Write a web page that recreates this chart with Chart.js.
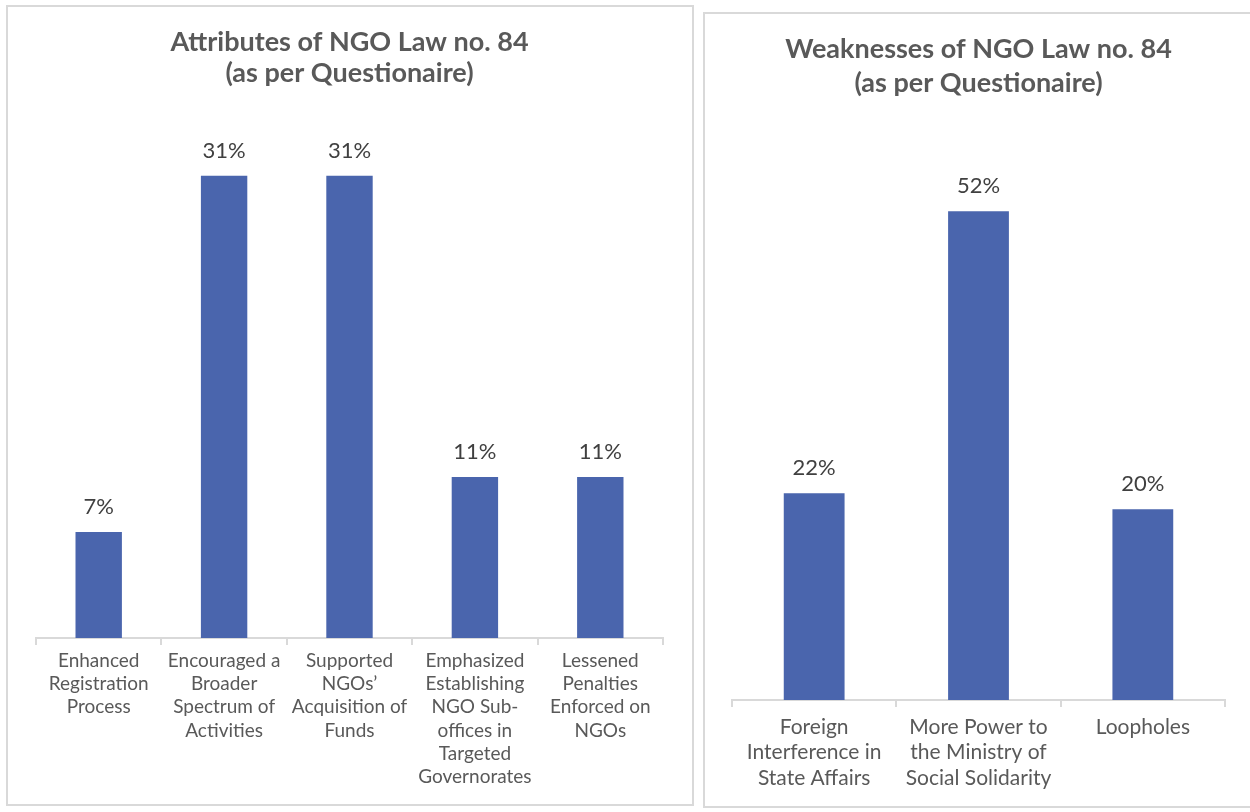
<!DOCTYPE html>
<html>
<head>
<meta charset="utf-8">
<script src="https://cdn.jsdelivr.net/npm/chart.js@4/dist/chart.umd.min.js"></script>
<style>
  body { margin: 0; background: #fff; width: 1250px; height: 812px; position: relative; overflow: hidden; }
  .box { position: absolute; border: 2px solid #d9d9d9; box-sizing: border-box; background: #fff; }
  #leftBox { left: 6px; top: 5px; width: 688px; height: 801px; }
  #rightBox { left: 703px; top: 12px; width: 549px; height: 796px; }
  canvas { display: block; }
</style>
</head>
<body>
<div class="box" id="leftBox"><canvas id="attrChart" width="684" height="797"></canvas></div>
<div class="box" id="rightBox"><canvas id="weakChart" width="545" height="792"></canvas></div>
<script>
// chart data
const attrTitle = ['Attributes of NGO Law no. 84', '(as per Questionaire)'];
const attrCategories = [
  ['Enhanced', 'Registration', 'Process'],
  ['Encouraged a', 'Broader', 'Spectrum of', 'Activities'],
  ['Supported', 'NGOs’', 'Acquisition of', 'Funds'],
  ['Emphasized', 'Establishing', 'NGO Sub-', 'offices in', 'Targeted', 'Governorates'],
  ['Lessened', 'Penalties', 'Enforced on', 'NGOs']
];
const attrValues = [7.1, 31, 31, 10.8, 10.8];

const weakTitle = ['Weaknesses of NGO Law no. 84', '(as per Questionaire)'];
const weakCategories = [
  ['Foreign', 'Interference in', 'State Affairs'],
  ['More Power to', 'the Ministry of', 'Social Solidarity'],
  ['Loopholes']
];
const weakValues = [22, 52, 20.3];

const fontFamily = '"Century Gothic", Lato, sans-serif';
const barColor = '#4a65ad';

const barLabels = {
  id: 'barLabels',
  afterDatasetsDraw(chart) {
    const ctx = chart.ctx;
    const meta = chart.getDatasetMeta(0);
    const vals = chart.data.datasets[0].data;
    ctx.save();
    ctx.font = '22px ' + fontFamily;
    ctx.fillStyle = '#404040';
    ctx.textAlign = 'center';
    ctx.textBaseline = 'middle';
    meta.data.forEach((bar, i) => {
      ctx.fillText(Math.round(vals[i]) + '%', bar.x, bar.y - 25);
    });
    ctx.restore();
  }
};

function makeChart(id, title, labels, values, opts) {
  const ctx = document.getElementById(id);
  return new Chart(ctx, {
    type: 'bar',
    data: {
      labels: labels,
      datasets: [{
        data: values,
        backgroundColor: barColor,
        barPercentage: 0.37,
        categoryPercentage: 1
      }]
    },
    options: {
      responsive: false,
      animation: false,
      layout: { padding: opts.padding },
      plugins: {
        legend: { display: false },
        tooltip: { enabled: false },
        title: {
          display: true,
          text: title,
          color: '#595959',
          font: { family: fontFamily, size: 27, weight: 'bold', lineHeight: opts.titleLine / 27 },
          padding: opts.titlePadding
        }
      },
      scales: {
        x: {
          afterFit: (s) => { s.height = opts.axisHeight; },
          grid: {
            display: true,
            drawOnChartArea: false,
            drawTicks: true,
            tickLength: 7,
            color: '#d9d9d9',
            lineWidth: 2,
            offset: true
          },
          border: { display: true, color: '#d9d9d9', width: 2 },
          ticks: {
            color: '#595959',
            font: { family: fontFamily, size: opts.tickSize, lineHeight: opts.tickLine / opts.tickSize },
            padding: opts.tickPadding,
            maxRotation: 0,
            autoSkip: false
          }
        },
        y: {
          display: false,
          min: 0,
          max: opts.max
        }
      }
    },
    plugins: [barLabels]
  });
}

makeChart('attrChart', attrTitle, attrCategories, attrValues, {
  padding: { left: 28, right: 29, top: 0, bottom: 0 },
  titleLine: 31,
  titlePadding: { top: 20, bottom: 30 },
  axisHeight: 166,
  tickSize: 19,
  tickLine: 23.3,
  tickPadding: 4,
  max: 34.8
});

makeChart('weakChart', weakTitle, weakCategories, weakValues, {
  padding: { left: 27, right: 25, top: 0, bottom: 0 },
  titleLine: 34,
  titlePadding: { top: 18, bottom: 36 },
  axisHeight: 106,
  tickSize: 21,
  tickLine: 25.5,
  tickPadding: 7,
  max: 60
});
</script>
</body>
</html>
